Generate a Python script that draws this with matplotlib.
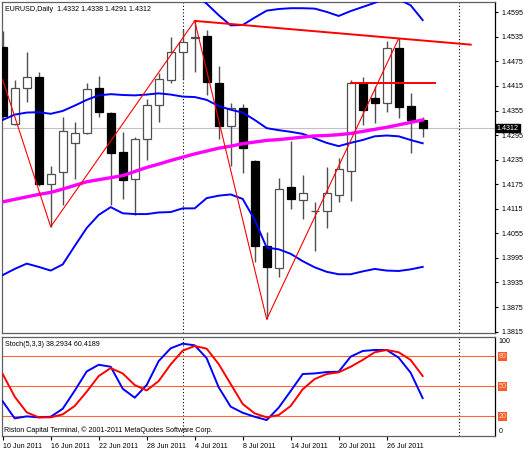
import matplotlib
matplotlib.use("Agg")
import matplotlib.pyplot as plt
import matplotlib.transforms as mtransforms

# Daily EURUSD bars, 10 Jun 2011 .. 29 Jul 2011
opens = [1.4509, 1.4322, 1.4409, 1.4438, 1.4175, 1.4205, 1.4276, 1.4299, 1.4409, 1.4350,
         1.4253, 1.4188, 1.4285, 1.4368, 1.4430, 1.4497, 1.4531, 1.4537, 1.4423, 1.4317,
         1.4362, 1.4232, 1.4025, 1.3971, 1.4167, 1.4136, 1.4109, 1.4110, 1.4149, 1.4208,
         1.4422, 1.4386, 1.4374, 1.4507, 1.4366, 1.4332]
highs = [1.4550, 1.4430, 1.4497, 1.4450, 1.4220, 1.4338, 1.4327, 1.4422, 1.4439, 1.4352,
         1.4303, 1.4291, 1.4382, 1.4446, 1.4535, 1.4554, 1.4574, 1.4552, 1.4464, 1.4373,
         1.4370, 1.4235, 1.4059, 1.4189, 1.4281, 1.4198, 1.4132, 1.4218, 1.4238, 1.4430,
         1.4436, 1.4415, 1.4525, 1.4531, 1.4397, 1.4338]
lows = [1.4335, 1.4320, 1.4377, 1.4171, 1.4071, 1.4124, 1.4188, 1.4297, 1.4340, 1.4124,
        1.4138, 1.4100, 1.4234, 1.4328, 1.4422, 1.4431, 1.4450, 1.4393, 1.4285, 1.4220,
        1.4202, 1.3986, 1.3845, 1.3949, 1.4114, 1.4090, 1.4013, 1.4067, 1.4132, 1.4135,
        1.4320, 1.4324, 1.4352, 1.4336, 1.4251, 1.4291]
closes = [1.4342, 1.4409, 1.4438, 1.4176, 1.4200, 1.4305, 1.4301, 1.4407, 1.4352, 1.4252,
          1.4185, 1.4285, 1.4368, 1.4431, 1.4497, 1.4522, 1.4535, 1.4425, 1.4316, 1.4362,
          1.4263, 1.4025, 1.3972, 1.4163, 1.4140, 1.4154, 1.4109, 1.4153, 1.4212, 1.4422,
          1.4356, 1.4374, 1.4507, 1.4364, 1.4332, 1.4312]

# Bollinger bands and moving average
bb_upper = [1.4711, 1.4723, 1.4718, 1.4730, 1.4728, 1.4728, 1.4711, 1.4693, 1.4684, 1.4671,
            1.4681, 1.4681, 1.4686, 1.4686, 1.4681, 1.4662, 1.4640, 1.4616, 1.4588, 1.4563,
            1.4564, 1.4582, 1.4599, 1.4603, 1.4605, 1.4605, 1.4604, 1.4596, 1.4586, 1.4598,
            1.4608, 1.4618, 1.4632, 1.4627, 1.4612, 1.4576]
bb_mid = [1.4332, 1.4345, 1.4350, 1.4351, 1.4347, 1.4354, 1.4367, 1.4381, 1.4392, 1.4395,
          1.4393, 1.4392, 1.4394, 1.4397, 1.4394, 1.4389, 1.4388, 1.4381, 1.4366, 1.4357,
          1.4350, 1.4332, 1.4312, 1.4307, 1.4303, 1.4298, 1.4287, 1.4276, 1.4268, 1.4276,
          1.4283, 1.4292, 1.4294, 1.4292, 1.4283, 1.4275]
bb_lower = [1.3953, 1.3968, 1.3981, 1.3973, 1.3964, 1.3979, 1.4024, 1.4068, 1.4100, 1.4119,
            1.4104, 1.4102, 1.4102, 1.4106, 1.4107, 1.4116, 1.4116, 1.4141, 1.4147, 1.4150,
            1.4139, 1.4088, 1.4020, 1.4016, 1.4005, 1.3987, 1.3972, 1.3961, 1.3955, 1.3955,
            1.3962, 1.3968, 1.3964, 1.3963, 1.3967, 1.3973]
ma = [1.4132, 1.4138, 1.4144, 1.4150, 1.4155, 1.4163, 1.4172, 1.4181, 1.4186, 1.4191,
      1.4196, 1.4206, 1.4216, 1.4224, 1.4233, 1.4241, 1.4249, 1.4256, 1.4263, 1.4268,
      1.4274, 1.4278, 1.4282, 1.4284, 1.4287, 1.4290, 1.4293, 1.4294, 1.4296, 1.4299,
      1.4304, 1.4309, 1.4314, 1.4320, 1.4326, 1.4332]

# ZigZag pivots and drawn lines
zz_idx = [0, 4, 16, 22, 33]
zz_price = [1.4430, 1.4071, 1.4574, 1.3845, 1.4531]
trend_idx = [16, 39]
trend_price = [1.4574, 1.4516]
resist_idx = [29, 36]
resist_price = [1.4423, 1.4423]

# Stochastic(5,3,3)
stoch_k = [35, 18, 20, 19, 19.6, 27.6, 45.7, 65, 71.7, 69.7, 47.7, 38.7, 51.4, 75.4, 88.2,
           92.8, 91.2, 78.2, 49.1, 29.7, 23.6, 19.6, 16.3, 28.7, 45.4, 62.4, 63, 64.4, 64.7,
           79.8, 85.5, 86.5, 86.5, 78.8, 63.7, 38.3]
stoch_d = [62.4, 39.7, 24, 19, 19, 22, 30.4, 44.7, 60.4, 68.4, 63, 51.4, 46, 55.4, 72.1,
           85.8, 90.5, 87.8, 72.4, 52.4, 32.4, 23, 19, 21.3, 30.4, 47.1, 57.4, 62.4, 64.1,
           69.7, 76.5, 84.2, 86.5, 84.2, 76.5, 60.4]
stoch_levels = [20, 50, 80]

date_idx = [0, 4, 8, 12, 16, 20, 24, 28, 32]
date_labels = ["10 Jun 2011", "16 Jun 2011", "22 Jun 2011", "28 Jun 2011", "4 Jul 2011",
               "8 Jul 2011", "14 Jul 2011", "20 Jul 2011", "26 Jul 2011"]
price_ticks = [1.4595, 1.4535, 1.4475, 1.4415, 1.4355, 1.4295, 1.4235, 1.4175,
               1.4115, 1.4055, 1.3995, 1.3935, 1.3875, 1.3815]
separators = [15, 38]
last_price = 1.4312

plt.rcParams["font.family"] = ["Liberation Sans", "DejaVu Sans"]
FS = 5.1

fig = plt.figure(figsize=(5.25, 4.5), dpi=100)
ax = fig.add_axes([0.0038, 0.26, 0.94, 0.7356])
ax2 = fig.add_axes([0.0038, 0.0304, 0.94, 0.2218])

xlim = (-0.06, 41.07)
n = len(closes)
xs = list(range(n))

# candles
for i in xs:
    up = closes[i] >= opens[i]
    ax.vlines(i, lows[i], highs[i], color="#505050", lw=1, zorder=2)
    bottom = min(opens[i], closes[i])
    h = max(abs(closes[i] - opens[i]), 0.00002)
    ax.bar(i, h, bottom=bottom, width=0.64,
           facecolor="white" if up else "black",
           edgecolor="#505050" if up else "black", lw=0.9, zorder=3)

ax.plot(xs, bb_upper, color="#0000FF", lw=1.4, zorder=4)
ax.plot(xs, bb_mid, color="#0000FF", lw=1.4, zorder=4)
ax.plot(xs, bb_lower, color="#0000FF", lw=1.4, zorder=4)
ax.plot(xs, ma, color="#FF00FF", lw=2.4, zorder=4)
ax.plot(zz_idx, zz_price, color="#FF0000", lw=0.8, zorder=5)
ax.plot(trend_idx, trend_price, color="#FF0000", lw=1.4, zorder=5)
ax.plot(resist_idx, resist_price, color="#FF0000", lw=1.4, zorder=5)
ax.axhline(last_price, color="#C8BEC8", lw=0.8, zorder=1)

for a in (ax, ax2):
    for s in separators:
        a.axvline(s, color="black", lw=0.8, linestyle=(0, (1, 2)), zorder=1)
    a.set_xlim(*xlim)
    for sp in a.spines.values():
        sp.set_color("#606060")
        sp.set_linewidth(0.9)
    a.spines["right"].set_color("black")

ax.set_ylim(1.38115, 1.46202)
ax.set_xticks([])
ax.yaxis.tick_right()
ax.set_yticks(price_ticks)
ax.set_yticklabels([f"{v:.4f}" for v in price_ticks])
ax.tick_params(axis="y", length=2.5, width=0.8, pad=1.5, labelsize=FS)

ax.text(0.007, 0.988, "EURUSD,Daily  1.4332 1.4338 1.4291 1.4312", transform=ax.transAxes,
        fontsize=FS, va="top", ha="left")

trans = mtransforms.blended_transform_factory(ax.transAxes, ax.transData)
ax.text(1.003, last_price, "1.4312", transform=trans, fontsize=FS, color="white",
        va="center", ha="left",
        bbox=dict(boxstyle="square,pad=0.12", facecolor="black", edgecolor="black"), zorder=10)

# stochastic window
ax2.plot(xs, stoch_k, color="#0000FF", lw=1.4, zorder=3)
ax2.plot(xs, stoch_d, color="#FF0000", lw=1.4, zorder=3)
for lv in stoch_levels:
    ax2.axhline(lv, color="#FF6633", lw=0.8, zorder=2)
ax2.set_ylim(0, 100)
ax2.set_yticks([])
ax2.set_xticks(date_idx)
ax2.set_xticklabels(date_labels, ha="left", fontsize=FS)
ax2.tick_params(axis="x", length=3, width=0.8, pad=1.5)

trans2 = mtransforms.blended_transform_factory(ax2.transAxes, ax2.transData)
ax2.text(1.006, 99, "100", transform=trans2, fontsize=FS, va="top", ha="left")
ax2.text(1.006, 1, "0", transform=trans2, fontsize=FS, va="bottom", ha="left")
for lv in stoch_levels:
    ax2.text(1.006, lv, str(lv), transform=trans2, fontsize=FS, color="#FFE0D0",
             va="center", ha="left",
             bbox=dict(boxstyle="square,pad=0.1", facecolor="#FF5A2A", edgecolor="none"))

ax2.text(0.007, 0.955, "Stoch(5,3,3) 38.2934 60.4189", transform=ax2.transAxes,
         fontsize=FS, va="top", ha="left")
ax2.text(0.004, 0.02, "Riston Capital Terminal, \u00a9 2001-2011 MetaQuotes Software Corp.",
         transform=ax2.transAxes, fontsize=FS, va="bottom", ha="left")

fig.savefig("out.png", dpi=100)
